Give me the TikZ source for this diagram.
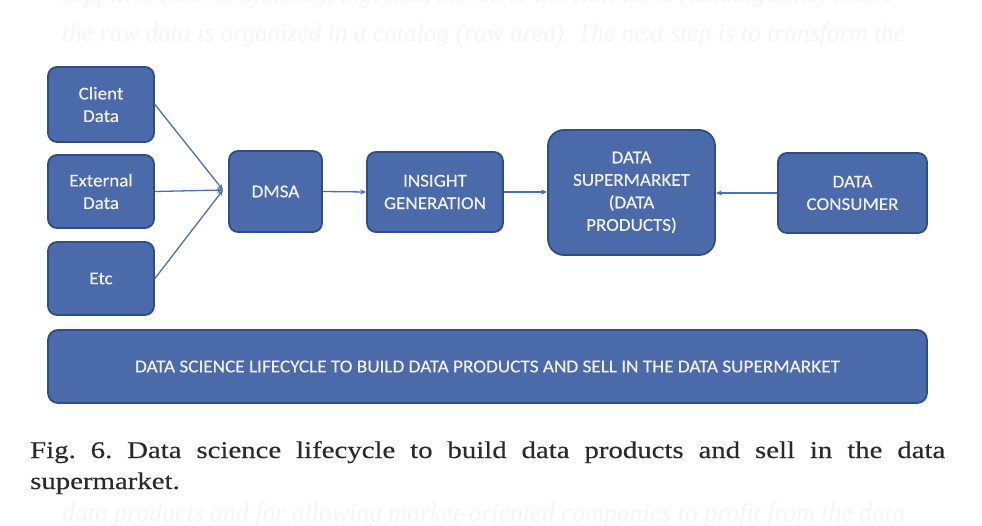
\documentclass[tikz,border=0pt]{standalone}
\usepackage{fontspec}
\setmainfont{Liberation Serif}
\newfontfamily\boxfont[FakeStretch=1.06,FakeBold=0.4]{Carlito}
\newfontfamily\capfont[FakeStretch=1.2,FakeBold=0.3]{Liberation Serif}
\usetikzlibrary{arrows.meta}
\definecolor{boxfill}{HTML}{4A6AA9}
\definecolor{boxline}{HTML}{2F4E84}
\definecolor{arrowc}{HTML}{4B6FB2}
\definecolor{ghost}{HTML}{F5F5F5}
\definecolor{captc}{HTML}{2A2A2A}
\definecolor{boxtext}{HTML}{F0F0F0}
\begin{document}
\frenchspacing
\begin{tikzpicture}[x=1pt,y=-1pt,
  blk/.style={draw=boxline, line width=1.8pt, fill=boxfill, rounded corners=9pt,
    inner sep=0pt, text=boxtext, font=\boxfont\fontsize{18}{22.5}\selectfont, align=center},
  conn/.style={draw=arrowc, line width=1.3pt, -{Stealth[length=6pt,width=5pt]}},
  ghosttext/.style={text=ghost, font=\fontsize{24}{28}\selectfont\itshape, inner sep=0pt, anchor=base west}]
\useasboundingbox (0,0) rectangle (982,526);
\fill[white] (0,0) rectangle (982,526);
\begin{scope}
\clip (0,0) rectangle (982,526);
\node[ghosttext] (g1) at (62,3) {\resizebox{831pt}{!}{suppliers (source systems), ingested, moved to the Raw Zone (landing zone) where}};
\node[ghosttext] (g2) at (62,42) {\resizebox{843pt}{!}{the raw data is organized in a catalog (raw area). The next step is to transform the}};
\node[ghosttext] (g3) at (62,521) {\resizebox{843pt}{!}{data products and for allowing market-oriented companies to profit from the data}};
\end{scope}

\node[blk, minimum width=106pt, minimum height=75pt] (client) at (101,104.5) {Client\\Data};
\node[blk, minimum width=106pt, minimum height=73pt] (external) at (101,191.5) {External\\Data};
\node[blk, minimum width=106pt, minimum height=73pt] (etc) at (101,278.5) {Etc};
\node[blk, minimum width=93pt, minimum height=81pt] (dmsa) at (275.5,191.5) {DMSA};
\node[blk, minimum width=136pt, minimum height=80pt] (insight) at (435,192) {INSIGHT\\GENERATION};
\node[blk, minimum width=167pt, minimum height=125pt, rounded corners=16pt] (super) at (631.5,192.5) {DATA\\SUPERMARKET\\(DATA\\PRODUCTS)};
\node[blk, minimum width=149pt, minimum height=80pt] (consumer) at (852.5,193) {DATA\\CONSUMER};
\node[blk, minimum width=879pt, minimum height=73pt, rounded corners=10pt, font=\boxfont\fontsize{15}{18}\selectfont] (banner) at (487.5,366.5)
  {\resizebox{705pt}{!}{DATA SCIENCE LIFECYCLE TO BUILD DATA PRODUCTS AND SELL IN THE DATA SUPERMARKET}};

\coordinate (conv) at (223,190);
\draw[conn] (client.east) -- (conv);
\draw[conn] (external.east) -- (conv);
\draw[conn] (etc.east) -- (conv);
\draw[conn] (dmsa.east) -- (insight.west);
\draw[conn] (insight.west -| insight.east) -- (super.west |- insight.east);
\draw[conn] (consumer.west) -- (super.east |- consumer.west);

\node[anchor=base west, inner sep=0pt, text width=915pt, align=justify,
  font=\capfont\fontsize{24}{31}\selectfont, text=captc] (cap) at (30,458)
  {Fig.~6. Data science lifecycle to build data products and sell in the data\linebreak supermarket.};
\end{tikzpicture}
\end{document}
